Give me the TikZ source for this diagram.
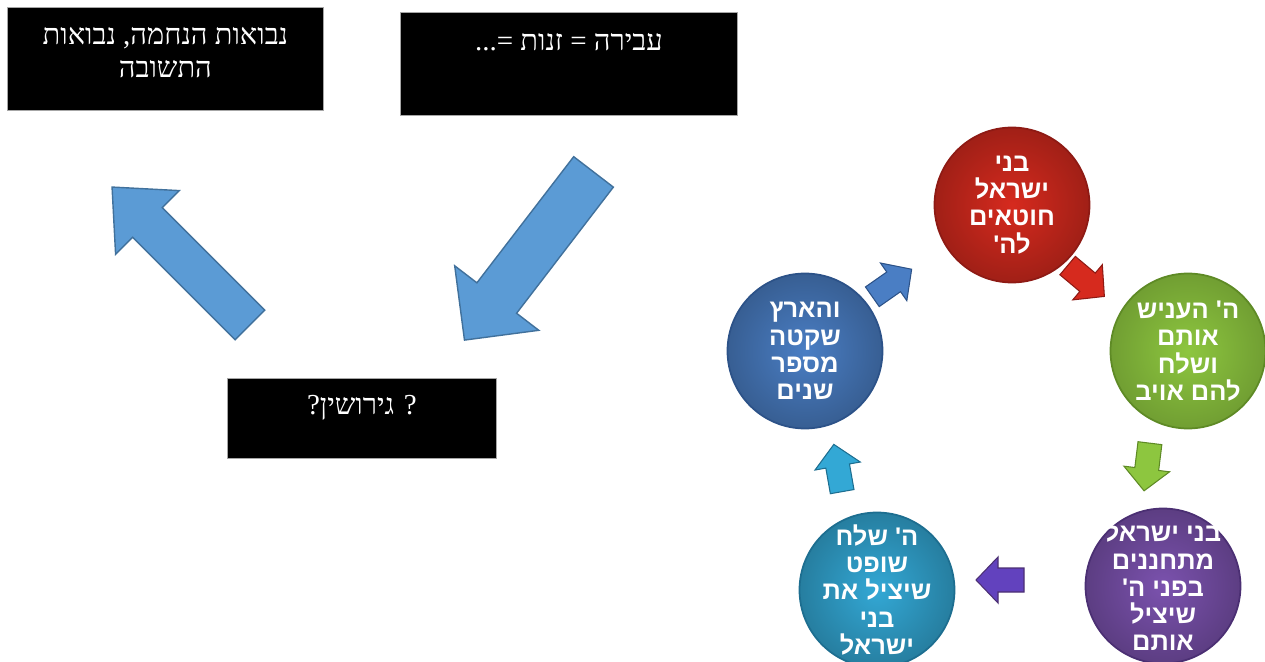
\documentclass[tikz,border=0pt]{standalone}
\usepackage{fontspec}
\setmainfont{Liberation Serif}[Script=Hebrew]
\newfontfamily\hebsans[Script=Hebrew]{Liberation Sans}
\TeXXeTstate=1
\usetikzlibrary{positioning}

\definecolor{arrowblue}{HTML}{5B9BD5}
\definecolor{arrowedge}{HTML}{41719C}
\definecolor{redc}{HTML}{D62A1E}
\definecolor{redd}{HTML}{8E1A14}
\definecolor{greenc}{HTML}{8DC63F}
\definecolor{greend}{HTML}{5E8A25}
\definecolor{purplec}{HTML}{7B52AE}
\definecolor{purpled}{HTML}{4B2F73}
\definecolor{cyanc}{HTML}{33A8D5}
\definecolor{cyand}{HTML}{1D6E90}
\definecolor{bluec}{HTML}{4A7EC4}
\definecolor{blued}{HTML}{2C5288}

\newcommand{\rl}[1]{\beginR #1\endR}
% block arrow: style, centre, angle, length, half shaft, half head, head length
\newcommand{\blockarrow}[7]{%
  \draw[#1, shift={#2}, rotate=#3]
    ({-#4/2},-#5) -- ({#4/2-#7},-#5) -- ({#4/2-#7},-#6) -- ({#4/2},0)
    -- ({#4/2-#7},#6) -- ({#4/2-#7},#5) -- ({-#4/2},#5) -- cycle;}

\begin{document}
\begin{tikzpicture}[x=0.02cm, y=-0.02cm, node distance=0.3cm,
  blackbox/.style={draw=gray!70, line width=0.5pt, fill=black, inner sep=0pt, anchor=north west},
  boxtxt/.style={text=white, align=center, inner sep=0pt, font=\fontsize{16.5}{18.7}\selectfont},
  bigarrow/.style={draw=arrowedge, fill=arrowblue, line width=0.8pt, line join=miter},
  phase/.style={circle, minimum size=3.1cm, inner sep=0pt, line width=1pt},
  phasetxt/.style={align=center, text=white, inner sep=0pt,
    font=\hebsans\bfseries\fontsize{14.5}{15.5}\selectfont},
  cycarrow/.style={line width=0.6pt, line join=miter}]
\useasboundingbox (0,0) rectangle (1265,662);

% text boxes
\node[blackbox, minimum width=6.32cm, minimum height=2.06cm] (prophecy) at (7,7) {};
\node[boxtxt, below=0.4cm of prophecy.north] (prophecytxt) {\rl{נבואות הנחמה, נבואות}\\\rl{התשובה}};
\node[blackbox, minimum width=6.74cm, minimum height=2.06cm] (sin) at (400,12) {};
\node[boxtxt, below=0.42cm of sin.north] (sintxt) {\rl{עבירה = זנות =...}};
\node[blackbox, minimum width=5.38cm, minimum height=1.6cm] (divorce) at (227,378) {};
\node[boxtxt, below=0.34cm of divorce.north] (divorcetxt) {\rl{? גירושין?}};

% big arrows
\blockarrow{bigarrow}{(181,256)}{135}{195}{21}{45}{50}
\blockarrow{bigarrow}{(529,256)}{232.5}{212}{25}{53}{53}

% cycle
\node[phase, inner color=redc, outer color=redc!75!black, draw=redd] (sinning) at (1012,205) {};
\node[phase, inner color=greenc, outer color=greenc!80!black, draw=greend] (punish) at (1188,351) {};
\node[phase, inner color=purplec, outer color=purplec!75!black, draw=purpled] (plead) at (1163,586) {};
\node[phase, inner color=cyanc, outer color=cyanc!75!black, draw=cyand] (judge) at (877,590) {};
\node[phase, inner color=bluec, outer color=bluec!75!black, draw=blued] (quiet) at (805,351) {};

\node[phasetxt] (sinningtxt) at (sinning) {\rl{בני}\\\rl{ישראל}\\\rl{חוטאים}\\\rl{לה'}};
\node[phasetxt] (punishtxt) at (punish) {\rl{ה' העניש}\\\rl{אותם}\\\rl{ושלח}\\\rl{להם אויב}};
\node[phasetxt] (pleadtxt) at (plead) {\rl{בני ישראל}\\\rl{מתחננים}\\\rl{בפני ה'}\\\rl{שיציל}\\\rl{אותם}};
\node[phasetxt] (judgetxt) at (judge) {\rl{ה' שלח}\\\rl{שופט}\\\rl{שיציל את}\\\rl{בני}\\\rl{ישראל}};
\node[phasetxt] (quiettxt) at (quiet) {\rl{והארץ}\\\rl{שקטה}\\\rl{מספר}\\\rl{שנים}};

\blockarrow{cycarrow, fill=redc, draw=redd}{(1086,281)}{-40}{48}{12}{23}{22}
\blockarrow{cycarrow, fill=greenc, draw=greend}{(1147,467)}{-97}{48}{12}{23}{22}
\blockarrow{cycarrow, fill=purplec!80!blue, draw=purpled}{(1000,580)}{180}{48}{12}{23}{22}
\blockarrow{cycarrow, fill=cyanc, draw=cyand}{(838,468)}{100}{48}{12}{23}{22}
\blockarrow{cycarrow, fill=bluec, draw=blued}{(892,283)}{35}{48}{12}{23}{22}
\end{tikzpicture}
\end{document}
